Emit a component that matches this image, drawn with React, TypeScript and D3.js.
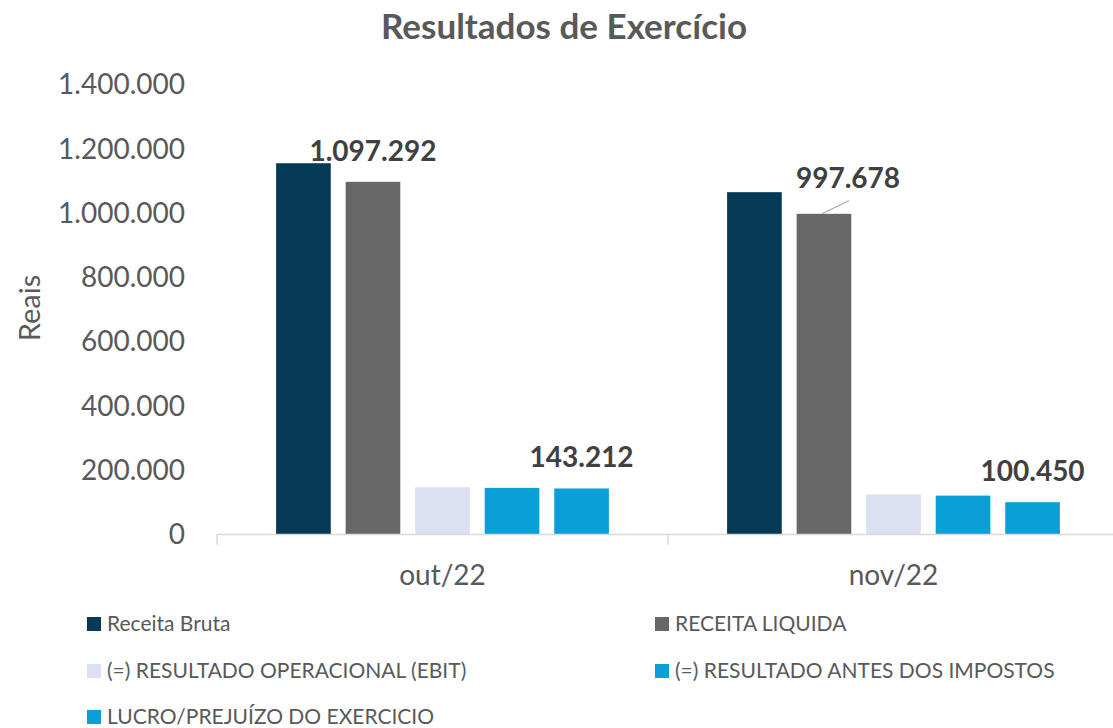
import React from "react";
import * as d3 from "d3";

const categories = ["out/22", "nov/22"];
const seriesNames = [
  "Receita Bruta",
  "RECEITA LIQUIDA",
  "(=) RESULTADO OPERACIONAL (EBIT)",
  "(=) RESULTADO ANTES DOS IMPOSTOS",
  "LUCRO/PREJUÍZO DO EXERCICIO",
];
const receitaBruta = [1155000, 1065000];
const receitaLiquida = [1097292, 997678];
const ebit = [147000, 125000];
const antesImpostos = [145000, 121000];
const lucro = [143212, 100450];
const yTicks = [0, 200000, 400000, 600000, 800000, 1000000, 1200000, 1400000];
const colors = ["#043a56", "#676767", "#dbe1f2", "#0aa0d7", "#0aa0d7"];

const W = 1113;
const H = 728;
const FONT = "Lato, 'Open Sans', sans-serif";

const locale = d3.formatLocale({ decimal: ",", thousands: ".", grouping: [3], currency: ["R$", ""] });
const fmt = locale.format(",.0f");

export default function App() {
  const values = [receitaBruta, receitaLiquida, ebit, antesImpostos, lucro];
  const x0 = d3.scaleBand<string>().domain(categories).range([217, 1119]).padding(0);
  const x1 = d3
    .scaleBand<number>()
    .domain(d3.range(seriesNames.length))
    .range([0, x0.bandwidth()])
    .paddingInner(0.214)
    .paddingOuter(0.85);
  const y = d3.scaleLinear().domain([0, 1400000]).range([534.5, 84.5]);

  // labelled points: [series index, category index, dx, dy, leader]
  const labels: [number, number, number, number, boolean][] = [
    [1, 0, 0, -21, false],
    [1, 1, 24, -26, true],
    [4, 0, 0, -21, false],
    [4, 1, 0, -21, false],
  ];

  const legendPos = [
    [87, 624],
    [655, 624],
    [87, 671],
    [655, 671],
    [87, 717],
  ];

  const axisY = y(0);
  const boundaries = [...categories.map((c) => x0(c)!), x0(categories[categories.length - 1])! + x0.bandwidth()];

  return (
    <svg
      width={W}
      height={H}
      style={{ position: "absolute", left: 0, top: 0, background: "#fff" }}
      fontFamily={FONT}
    >
      <rect x={0} y={0} width={W} height={H} fill="#fff" />
      <text x={564} y={39} textAnchor="middle" fontSize={35} fontWeight={700} fill="#595959">
        Resultados de Exercício
      </text>

      {/* y tick labels */}
      {yTicks.map((t) => (
        <text key={t} x={185} y={y(t)} dy="0.35em" textAnchor="end" fontSize={28} fill="#595959">
          {fmt(t)}
        </text>
      ))}
      <text
        transform={`translate(${40},${308}) rotate(-90)`}
        textAnchor="middle"
        fontSize={29}
        fill="#595959"
      >
        Reais
      </text>

      {/* bars */}
      {categories.map((c, ci) => (
        <g key={c} transform={`translate(${x0(c)},0)`}>
          {values.map((arr, si) => (
            <rect
              key={si}
              x={x1(si)}
              y={y(arr[ci])}
              width={x1.bandwidth()}
              height={axisY - y(arr[ci])}
              fill={colors[si]}
            />
          ))}
        </g>
      ))}

      {/* axis */}
      <line x1={boundaries[0]} x2={boundaries[boundaries.length - 1]} y1={axisY} y2={axisY} stroke="#d9d9d9" strokeWidth={1.5} />
      {boundaries.map((b, i) => (
        <line key={i} x1={b} x2={b} y1={axisY} y2={axisY + 10} stroke="#d9d9d9" strokeWidth={1.5} />
      ))}
      {categories.map((c) => (
        <text key={c} x={x0(c)! + x0.bandwidth() / 2} y={585} textAnchor="middle" fontSize={28} fill="#595959">
          {c}
        </text>
      ))}

      {/* data labels */}
      {labels.map(([si, ci, dx, dy, leader], i) => {
        const cx = x0(categories[ci])! + x1(si)! + x1.bandwidth() / 2;
        const top = y(values[si][ci]);
        return (
          <g key={i}>
            {leader && (
              <line x1={cx - 2} y1={top} x2={cx + dx + 1} y2={top + dy + 13} stroke="#a6a6a6" strokeWidth={1.2} />
            )}
            <text x={cx + dx} y={top + dy} textAnchor="middle" fontSize={28} fontWeight={700} fill="#404040">
              {fmt(values[si][ci])}
            </text>
          </g>
        );
      })}

      {/* legend */}
      {seriesNames.map((n, i) => (
        <g key={n} transform={`translate(${legendPos[i][0]},${legendPos[i][1]})`}>
          <rect x={0} y={-7} width={14} height={14} fill={colors[i]} />
          <text x={20} y={0} dy="0.35em" fontSize={21} fill="#595959">
            {n}
          </text>
        </g>
      ))}
    </svg>
  );
}
